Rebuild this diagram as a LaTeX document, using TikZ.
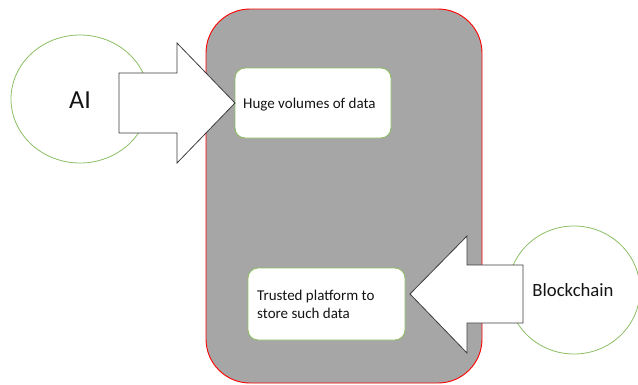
\documentclass[tikz,border=0pt]{standalone}
\usepackage{fontspec}
\setmainfont{Carlito}
\definecolor{boxgray}{RGB}{166,166,166}
\definecolor{ringgreen}{RGB}{140,190,100}
\definecolor{arrowline}{RGB}{60,60,60}
\definecolor{txt}{RGB}{20,20,20}
\tikzset{
  ring/.style={draw=ringgreen, line width=0.8pt, fill=white},
  bigarrow/.style={draw=arrowline, line width=0.8pt, fill=white, line join=miter},
  infobox/.style={draw=ringgreen, line width=0.9pt, fill=white, rounded corners=10pt},
  panel/.style={draw=red, line width=0.9pt, fill=boxgray, rounded corners=44pt},
  lbl/.style={text=txt, inner sep=0pt, anchor=base west, font=\fontsize{15}{18}\selectfont, align=left}
}
\begin{document}
\begin{tikzpicture}[x=1pt,y=-1pt]
\useasboundingbox (0,0) rectangle (638,384);
% circles
\draw[ring] (80,99) ellipse [x radius=69, y radius=64];
\node[text=txt, font=\fontsize{26}{30}\selectfont] (ai) at (80,100) {AI};
\draw[ring] (574,290) ellipse [x radius=66, y radius=64];
\node[text=txt, font=\fontsize{18.7}{22}\selectfont] (bc) at (573,290) {Blockchain};
% panel
\draw[panel] (206,9) rectangle (482,383);
% boxes
\draw[infobox] (235,68) rectangle (391,138);
\node[lbl] (huge) at (243,108) {Huge volumes of data};
\coordinate (hugewest) at (235,103);
\draw[infobox] (248,268) rectangle (405,340);
\node[lbl] (trust) at (257,318) {Trusted platform to\\store such data};
\coordinate (trusteast) at (410,294);
% arrows
\draw[bigarrow] (119,73) -- (177,73) -- (177,43) -- (hugewest) -- (177,163) -- (177,133) -- (119,133) -- cycle;
\draw[bigarrow] (523,265) -- (467,265) -- (467,236) -- (trusteast) -- (467,353) -- (467,323) -- (523,323) -- cycle;
\end{tikzpicture}
\end{document}
